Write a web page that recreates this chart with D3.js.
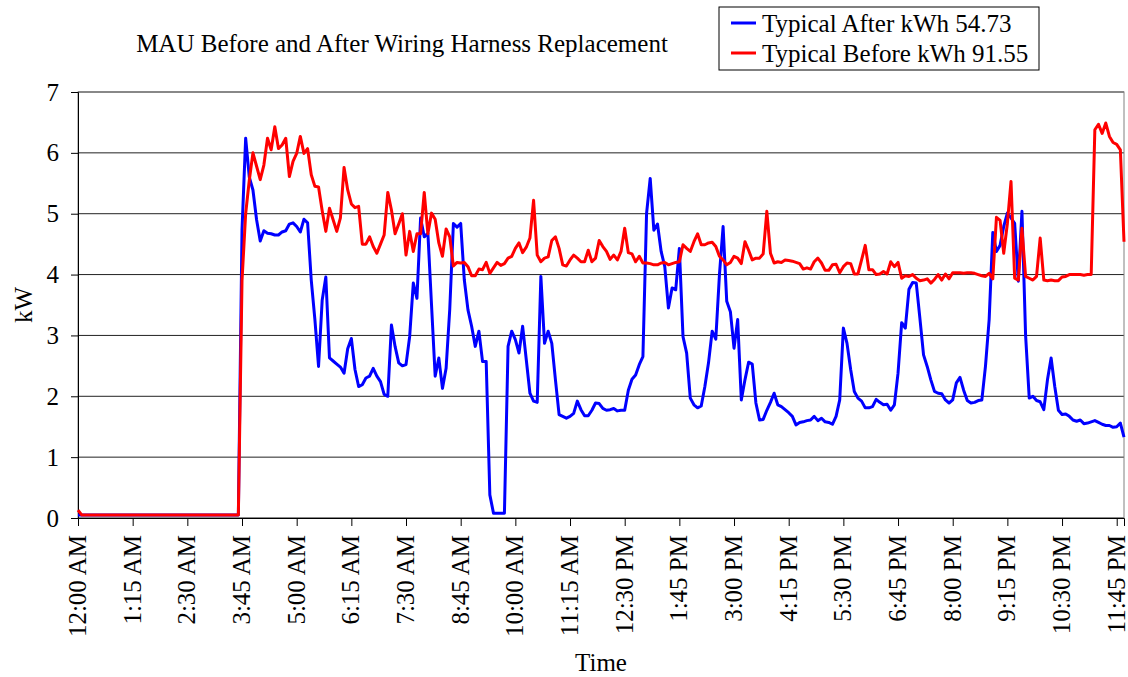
<!DOCTYPE html>
<html>
<head>
<meta charset="utf-8">
<script src="https://cdn.jsdelivr.net/npm/d3@7"></script>
<style>
  body { margin: 0; background: #fff; }
  text { font-family: "Liberation Serif", "Times New Roman", "DejaVu Serif", serif; fill: #000; }
</style>
</head>
<body>
<script>
const width = 1128;
const height = 677;

const chartTitle = "MAU Before and After Wiring Harness Replacement";
const seriesNames = ["Typical After kWh 54.73", "Typical Before kWh 91.55"];
const seriesColors = ["#0000ff", "#ff0000"];

const xTickLabels = ["12:00 AM", "1:15 AM", "2:30 AM", "3:45 AM", "5:00 AM", "6:15 AM", "7:30 AM",
  "8:45 AM", "10:00 AM", "11:15 AM", "12:30 PM", "1:45 PM", "3:00 PM", "4:15 PM", "5:30 PM",
  "6:45 PM", "8:00 PM", "9:15 PM", "10:30 PM", "11:45 PM"];
const yTicks = [0, 1, 2, 3, 4, 5, 6, 7];

// kW, one reading every 5 minutes, one row per hour
const typicalAfter = [
  0.05, 0.05, 0.05, 0.05, 0.05, 0.05, 0.05, 0.05, 0.05, 0.05, 0.05, 0.05,
  0.05, 0.05, 0.05, 0.05, 0.05, 0.05, 0.05, 0.05, 0.05, 0.05, 0.05, 0.05,
  0.05, 0.05, 0.05, 0.05, 0.05, 0.05, 0.05, 0.05, 0.05, 0.05, 0.05, 0.05,
  0.05, 0.05, 0.05, 0.05, 0.05, 0.05, 0.05, 0.05, 0.05, 4.73, 6.24, 5.6,
  5.39, 4.9, 4.55, 4.72, 4.68, 4.67, 4.65, 4.65, 4.7, 4.72, 4.83, 4.85,
  4.79, 4.7, 4.91, 4.85, 3.91, 3.26, 2.49, 3.58, 3.96, 2.63, 2.58, 2.53,
  2.48, 2.38, 2.78, 2.95, 2.44, 2.16, 2.19, 2.3, 2.33, 2.46, 2.33, 2.24,
  2.03, 2.0, 3.17, 2.82, 2.55, 2.5, 2.52, 2.98, 3.86, 3.61, 4.93, 4.62,
  4.68, 3.5, 2.33, 2.63, 2.13, 2.46, 3.43, 4.84, 4.78, 4.84, 3.91, 3.42,
  3.15, 2.82, 3.07, 2.57, 2.57, 0.38, 0.08, 0.08, 0.08, 0.08, 2.82, 3.07,
  2.93, 2.71, 3.15, 2.6, 2.05, 1.92, 1.9, 3.97, 2.87, 3.07, 2.87, 2.27,
  1.7, 1.67, 1.64, 1.67, 1.72, 1.92, 1.78, 1.68, 1.68, 1.77, 1.89, 1.88,
  1.8, 1.77, 1.78, 1.8, 1.76, 1.77, 1.77, 2.1, 2.28, 2.35, 2.52, 2.65,
  5.0, 5.58, 4.73, 4.83, 4.38, 4.13, 3.45, 3.78, 3.75, 4.43, 2.98, 2.71,
  1.97, 1.86, 1.81, 1.84, 2.16, 2.55, 3.07, 2.94, 4.0, 4.79, 3.56, 3.39,
  2.79, 3.26, 1.94, 2.27, 2.56, 2.53, 1.89, 1.61, 1.62, 1.77, 1.9, 2.05,
  1.86, 1.83, 1.78, 1.73, 1.67, 1.53, 1.57, 1.58, 1.6, 1.61, 1.67, 1.6,
  1.64, 1.58, 1.57, 1.54, 1.67, 1.94, 3.12, 2.87, 2.44, 2.08, 1.97, 1.92,
  1.81, 1.81, 1.83, 1.95, 1.9, 1.86, 1.87, 1.77, 1.86, 2.38, 3.21, 3.12,
  3.76, 3.87, 3.86, 3.28, 2.68, 2.49, 2.27, 2.08, 2.05, 2.04, 1.94, 1.89,
  1.94, 2.22, 2.31, 2.1, 1.93, 1.89, 1.9, 1.93, 1.94, 2.5, 3.26, 4.69,
  4.38, 4.48, 4.79, 5.01, 4.93, 4.84, 3.89, 5.04, 3.0, 1.97, 2.0, 1.93,
  1.91, 1.78, 2.27, 2.63, 2.16, 1.77, 1.7, 1.71, 1.67, 1.61, 1.59, 1.61,
  1.55, 1.56, 1.58, 1.6, 1.57, 1.54, 1.52, 1.52, 1.49, 1.5, 1.56, 1.33
];

const typicalBefore = [
  0.13, 0.05, 0.05, 0.05, 0.05, 0.05, 0.05, 0.05, 0.05, 0.05, 0.05, 0.05,
  0.05, 0.05, 0.05, 0.05, 0.05, 0.05, 0.05, 0.05, 0.05, 0.05, 0.05, 0.05,
  0.05, 0.05, 0.05, 0.05, 0.05, 0.05, 0.05, 0.05, 0.05, 0.05, 0.05, 0.05,
  0.05, 0.05, 0.05, 0.05, 0.05, 0.05, 0.05, 0.05, 0.05, 3.9, 5.0, 5.55,
  6.0, 5.78, 5.56, 5.8, 6.24, 6.05, 6.43, 6.07, 6.13, 6.24, 5.61, 5.86,
  5.99, 6.27, 5.99, 6.07, 5.64, 5.45, 5.44, 5.05, 4.71, 5.09, 4.9, 4.71,
  4.93, 5.76, 5.39, 5.16, 5.1, 5.12, 4.5, 4.5, 4.62, 4.46, 4.35, 4.5,
  4.65, 5.35, 5.06, 4.67, 4.83, 5.0, 4.32, 4.71, 4.38, 4.67, 4.67, 5.35,
  4.67, 5.01, 4.91, 4.52, 4.3, 4.75, 4.62, 4.14, 4.2, 4.19, 4.2, 4.13,
  3.98, 3.98, 4.09, 4.08, 4.2, 4.02, 4.11, 4.2, 4.15, 4.18, 4.27, 4.3,
  4.43, 4.52, 4.36, 4.45, 4.6, 5.22, 4.32, 4.21, 4.27, 4.29, 4.56, 4.62,
  4.43, 4.16, 4.14, 4.24, 4.32, 4.27, 4.21, 4.21, 4.4, 4.21, 4.27, 4.56,
  4.46, 4.38, 4.25, 4.32, 4.24, 4.38, 4.76, 4.36, 4.34, 4.21, 4.3, 4.19,
  4.19, 4.18, 4.16, 4.16, 4.19, 4.2, 4.16, 4.18, 4.2, 4.21, 4.49, 4.43,
  4.38, 4.54, 4.67, 4.49, 4.49, 4.52, 4.53, 4.46, 4.3, 4.24, 4.16, 4.2,
  4.3, 4.27, 4.18, 4.54, 4.4, 4.24, 4.27, 4.27, 4.34, 5.04, 4.35, 4.19,
  4.21, 4.2, 4.24, 4.23, 4.22, 4.2, 4.18, 4.09, 4.11, 4.09, 4.21, 4.27,
  4.19, 4.07, 4.07, 4.16, 4.17, 4.03, 4.13, 4.19, 4.18, 4.01, 4.01, 4.24,
  4.48, 4.08, 4.08, 4.0, 4.01, 4.05, 4.01, 4.21, 4.13, 4.2, 3.94, 3.98,
  3.97, 4.0, 3.94, 3.9, 3.91, 3.93, 3.86, 3.92, 4.0, 3.91, 4.01, 3.93,
  4.03, 4.03, 4.03, 4.02, 4.03, 4.03, 4.02, 4.0, 3.98, 3.97, 4.02, 3.93,
  4.94, 4.89, 4.35, 4.84, 5.53, 3.94, 3.91, 4.76, 3.97, 3.94, 3.91, 3.97,
  4.6, 3.91, 3.9, 3.91, 3.9, 3.9, 3.96, 3.97, 4.0, 4.0, 4.0, 4.0,
  3.99, 4.0, 4.0, 6.38, 6.47, 6.32, 6.49, 6.27, 6.17, 6.14, 6.05, 4.54
];

// category labels for every 5-minute reading
const fmt = d3.timeFormat("%-I:%M %p");
const times = typicalAfter.map((d, i) => fmt(new Date(2000, 0, 1, 0, i * 5)));

const plot = {left: 78, right: 1124, top: 92, bottom: 518};

const svg = d3.select("body")
  .append("svg")
  .attr("width", width)
  .attr("height", height);

const x = d3.scalePoint()
  .domain(times)
  .range([plot.left, plot.right]);

const y = d3.scaleLinear()
  .domain([0, 7])
  .range([plot.bottom, plot.top]);

// gridlines
svg.append("g")
  .selectAll("line")
  .data(yTicks)
  .join("line")
  .attr("x1", plot.left)
  .attr("x2", plot.right)
  .attr("y1", d => y(d))
  .attr("y2", d => y(d))
  .attr("stroke", "#222")
  .attr("stroke-width", 1);

// plot area border
svg.append("rect")
  .attr("x", plot.left)
  .attr("y", plot.top)
  .attr("width", plot.right - plot.left)
  .attr("height", plot.bottom - plot.top)
  .attr("fill", "none")
  .attr("stroke", "#808080");

const yAxis = d3.axisLeft(y)
  .tickValues(yTicks)
  .tickFormat(d3.format("d"))
  .tickSize(7)
  .tickPadding(12);

svg.append("g")
  .attr("transform", "translate(" + plot.left + ",0)")
  .call(yAxis)
  .call(g => g.attr("font-family", null).attr("font-size", null))
  .call(g => g.select(".domain").attr("stroke", "#000"))
  .call(g => g.selectAll("text").style("font-size", "25px"));

const xAxis = d3.axisBottom(x)
  .tickValues(xTickLabels)
  .tickSize(8);

svg.append("g")
  .attr("transform", "translate(0," + plot.bottom + ")")
  .call(xAxis)
  .call(g => g.attr("font-family", null).attr("font-size", null))
  .call(g => g.select(".domain").attr("stroke", "#000"))
  .call(g => g.selectAll("text")
    .style("font-size", "25px")
    .attr("transform", "rotate(-90)")
    .attr("text-anchor", "end")
    .attr("x", -17)
    .attr("y", 0)
    .attr("dy", "0.3em"));

const line = d3.line()
  .x((d, i) => x(times[i]))
  .y(d => y(d));

[typicalAfter, typicalBefore].forEach((s, k) => {
  svg.append("path")
    .datum(s)
    .attr("fill", "none")
    .attr("stroke", seriesColors[k])
    .attr("stroke-width", 3)
    .attr("stroke-linejoin", "round")
    .attr("d", line);
});

svg.append("text")
  .attr("x", 402)
  .attr("y", 52)
  .attr("text-anchor", "middle")
  .style("font-size", "25px")
  .text(chartTitle);

svg.append("text")
  .attr("x", (plot.left + plot.right) / 2)
  .attr("y", 671)
  .attr("text-anchor", "middle")
  .style("font-size", "25px")
  .text("Time");

svg.append("text")
  .attr("transform", "translate(23," + ((plot.top + plot.bottom) / 2) + ") rotate(-90)")
  .attr("text-anchor", "middle")
  .attr("dy", "0.35em")
  .style("font-size", "25px")
  .text("kW");

// legend
const legend = svg.append("g").attr("transform", "translate(719,7)");

legend.append("rect")
  .attr("width", 320)
  .attr("height", 63)
  .attr("fill", "#fff")
  .attr("stroke", "#000");

seriesNames.forEach((name, k) => {
  const row = legend.append("g").attr("transform", "translate(0," + (16 + k * 30) + ")");
  row.append("line")
    .attr("x1", 12)
    .attr("x2", 37)
    .attr("stroke", seriesColors[k])
    .attr("stroke-width", 3);
  row.append("text")
    .attr("x", 43)
    .attr("dy", "0.35em")
    .style("font-size", "25px")
    .text(name);
});
</script>
</body>
</html>
